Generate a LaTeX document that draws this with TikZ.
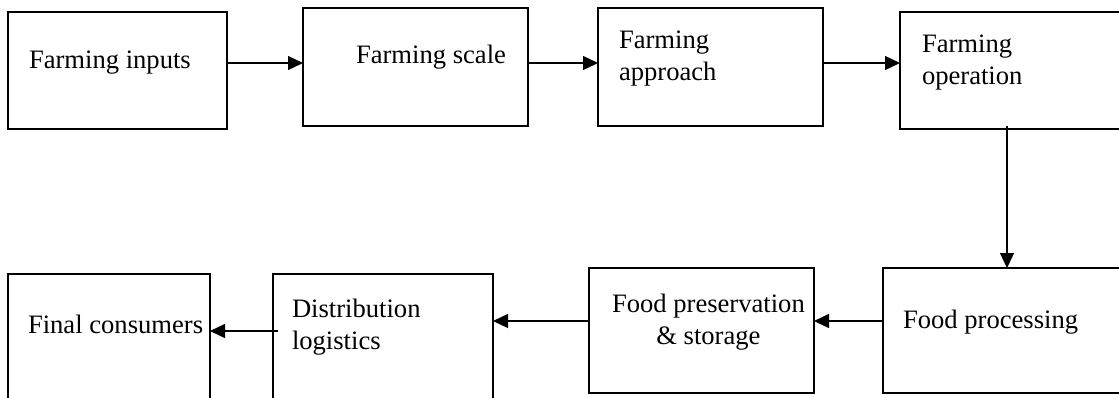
\documentclass[tikz,border=0pt]{standalone}
\usepackage{fontspec}
\setmainfont{Liberation Serif}
\usetikzlibrary{arrows.meta,calc}
\begin{document}
\begin{tikzpicture}[x=1pt,y=-1pt,
  stagebox/.style={draw=black,line width=2.4pt,rectangle,inner sep=0pt,outer sep=0pt},
  label/.style={inner sep=0pt,outer sep=0pt,anchor=base west,font=\fontsize{26.6pt}{31.5pt}\selectfont},
  flow/.style={draw=black,line width=1.3pt,-{Triangle[length=15pt,width=14pt]}}]
\useasboundingbox (0,0) rectangle (1119,397);
\clip (0,0) rectangle (1119,397);

% top row of stages
\node[stagebox,minimum width=219pt,minimum height=117pt] (inputs)    at (117.5,70.5) {};
\node[stagebox,minimum width=225pt,minimum height=118pt] (scale)     at (415.5,67) {};
\node[stagebox,minimum width=225pt,minimum height=118pt] (approach)  at (710.5,67) {};
\node[stagebox,minimum width=235pt,minimum height=117pt] (operation) at (1017.5,70.5) {};

% bottom row of stages
\node[stagebox,minimum width=202pt,minimum height=146pt] (consumers)    at (109,347) {};
\node[stagebox,minimum width=220pt,minimum height=146pt] (distribution) at (383,347) {};
\node[stagebox,minimum width=225pt,minimum height=125pt] (preservation) at (701.5,330.5) {};
\node[stagebox,minimum width=247pt,minimum height=125pt] (processing)   at (1006.5,330.5) {};

% labels (multi-line labels sit on the baseline of their last line)
\node[label] (tinputs) at (29,68) {Farming inputs};
\node[label] (tscale) at (356,63) {Farming scale};
\node[label,align=left] (tapproach) at (619,80) {Farming\\approach};
\node[label,align=left] (toperation) at (922,84) {Farming\\operation};
\node[label] (tconsumers) at (28,333) {Final consumers};
\node[label,align=left] (tdistribution) at (292,349) {Distribution\\logistics};
\node[label,align=center] (tpreservation) at (612,344) {Food preservation\\\& storage};
\node[label] (tprocessing) at (903,328) {Food processing};

% rows on which the connectors run
\coordinate (toprow) at (0,63);
\coordinate (downx) at (1007,0);
\coordinate (rowA) at (0,321);
\coordinate (rowB) at (0,331);

% connectors
\draw[flow] (inputs.east |- toprow) -- (scale.west |- toprow);
\draw[flow] (scale.east |- toprow) -- (approach.west |- toprow);
\draw[flow] (approach.east |- toprow) -- (operation.west |- toprow);
\draw[flow] ($(operation.south -| downx)+(0,-3)$) -- (processing.north -| downx);
\draw[flow] (processing.west |- rowA) -- (preservation.east |- rowA);
\draw[flow] (preservation.west |- rowA) -- (distribution.east |- rowA);
\draw[flow] ($(distribution.west |- rowB)+(5,0)$) -- (consumers.east |- rowB);
\end{tikzpicture}
\end{document}
